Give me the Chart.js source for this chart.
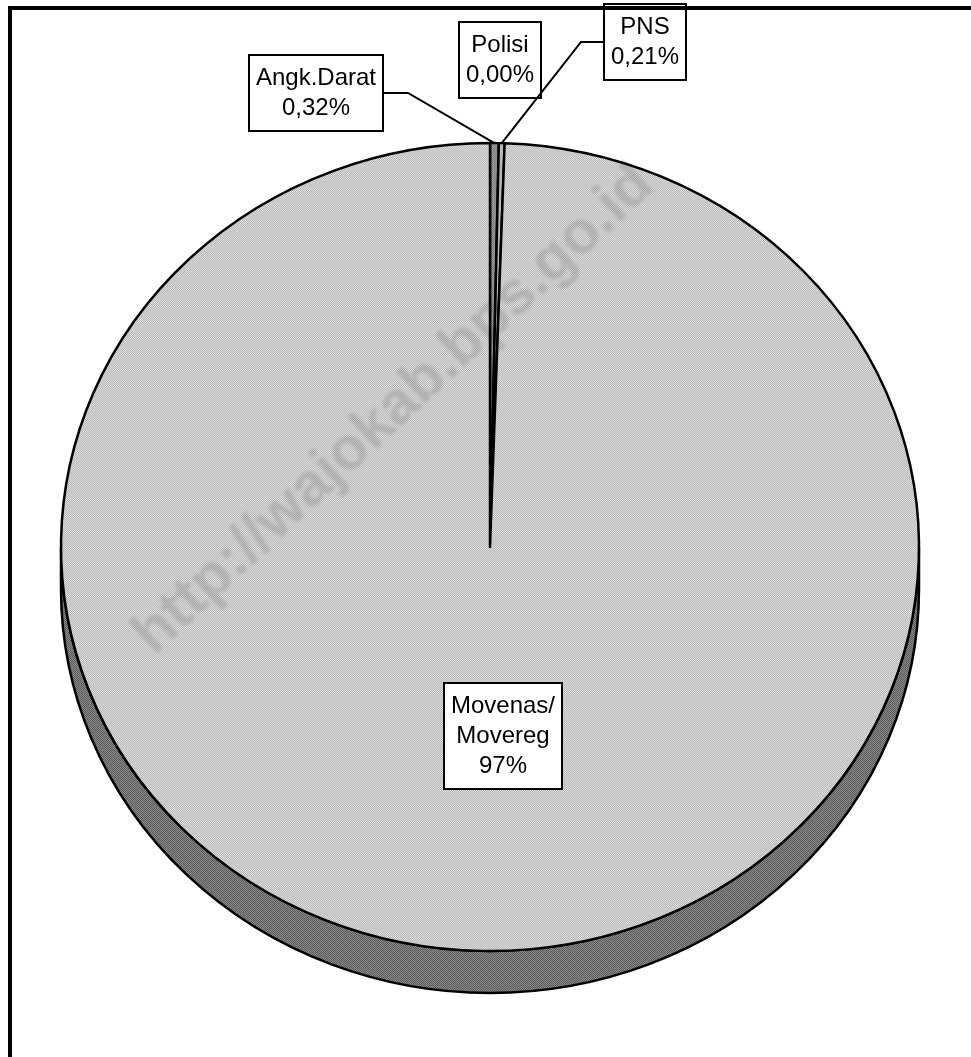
<!DOCTYPE html>
<html>
<head>
<meta charset="utf-8">
<script src="https://cdn.jsdelivr.net/npm/chart.js@4.4.1/dist/chart.umd.min.js"></script>
<style>
html, body { margin: 0; padding: 0; background: #fff; overflow: hidden; }
canvas { display: block; }
</style>
</head>
<body>
<canvas id="pieChart" width="971" height="1057"></canvas>
<script>
// slices, clockwise from the top
const categories = [['Angk.Darat'], ['Polisi'], ['PNS'], ['Movenas/', 'Movereg']];
const shares = [0.32, 0.00, 0.21, 97];

// layout of the tilted pie and the label boxes
const pieX = 490, pieY = 547, radiusX = 429, radiusY = 404, depth = 42;
const labelBoxes = [
    { x: 316, y: 93, leader: 'right' },
    { x: 500, y: 60, leader: null },
    { x: 645, y: 42, leader: 'left' },
    { x: 503, y: 736, leader: null }
];

// small dithered tiles, like the old office fills
function makePattern(light, dark)
{
    const tile = document.createElement('canvas');
    tile.width = 2;
    tile.height = 2;
    const t = tile.getContext('2d');
    t.fillStyle = light;
    t.fillRect(0, 0, 2, 2);
    t.fillStyle = dark;
    t.fillRect(0, 0, 1, 1);
    t.fillRect(1, 1, 1, 1);
    return t.createPattern(tile, 'repeat');
}

const topFills = [makePattern('#a8a8a8', '#707070'), '#ffffff', '#b8b8b8', makePattern('#eaeaea', '#aaaaaa')];
const sideFills = [makePattern('#606060', '#404040'), '#808080', '#7a7a7a', makePattern('#8a8a8a', '#5a5a5a')];

function formatShare(v)
{
    if (v >= 1) {
        return Math.round(v) + '%';
    }
    return v.toFixed(2).replace('.', ',') + '%';
}

// squashes the pie into an ellipse and draws the rim under it
const pie3d = {
    id: 'pie3d',
    beforeDatasetsDraw(chart) {
        const ctx = chart.ctx;
        const meta = chart.getDatasetMeta(0);
        const sy = radiusY / radiusX;
        meta.data.forEach((arc, i) => {
            const p = arc.getProps(['x', 'y', 'startAngle', 'endAngle', 'outerRadius'], true);
            for (const off of [0, 2 * Math.PI]) {
                const a0 = Math.max(p.startAngle, off);
                const a1 = Math.min(p.endAngle, off + Math.PI);
                if (a1 <= a0) continue;
                ctx.beginPath();
                ctx.ellipse(p.x, p.y, p.outerRadius, p.outerRadius * sy, 0, a0, a1);
                ctx.ellipse(p.x, p.y + depth, p.outerRadius, p.outerRadius * sy, 0, a1, a0, true);
                ctx.closePath();
                ctx.fillStyle = sideFills[i];
                ctx.fill();
                ctx.lineWidth = 2.5;
                ctx.strokeStyle = '#000';
                ctx.stroke();
            }
        });
        const c = meta.data[0];
        ctx.save();
        ctx.translate(c.x, c.y);
        ctx.scale(1, sy);
        ctx.translate(-c.x, -c.y);
    },
    afterDatasetsDraw(chart) {
        chart.ctx.restore();
    }
};

// watermark, label boxes with leader lines, frame
const decorations = {
    id: 'decorations',
    afterDraw(chart) {
        const ctx = chart.ctx;
        const meta = chart.getDatasetMeta(0);
        const sy = radiusY / radiusX;

        ctx.save();
        ctx.translate(394, 410);
        ctx.rotate(-43 * Math.PI / 180);
        ctx.filter = 'blur(1.5px)';
        ctx.font = 'bold 60px "Liberation Sans", Arial, sans-serif';
        ctx.fillStyle = 'rgba(0, 0, 0, 0.11)';
        ctx.textAlign = 'center';
        ctx.textBaseline = 'middle';
        ctx.fillText('http://wajokab.bps.go.id', 0, 0);
        ctx.restore();

        ctx.save();
        ctx.font = '24px "Liberation Sans", Arial, sans-serif';
        ctx.textAlign = 'center';
        ctx.textBaseline = 'middle';
        const lineH = 30, padX = 7, padY = 8;
        categories.forEach((cat, i) => {
            const lines = cat.concat([formatShare(shares[i])]);
            let w = 0;
            lines.forEach(l => { w = Math.max(w, ctx.measureText(l).width); });
            const bw = Math.round(w + 2 * padX);
            const bh = lines.length * lineH + 2 * padY;
            const box = labelBoxes[i];
            const left = Math.round(box.x - bw / 2);
            const top = Math.round(box.y - bh / 2);

            if (box.leader) {
                const arc = meta.data[i];
                const p = arc.getProps(['x', 'y', 'startAngle', 'endAngle', 'outerRadius'], true);
                const mid = (p.startAngle + p.endAngle) / 2;
                const ax = p.x + p.outerRadius * Math.cos(mid);
                const ay = p.y + p.outerRadius * sy * Math.sin(mid);
                const ex = box.leader === 'right' ? left + bw : left;
                const elbow = box.leader === 'right' ? ex + 25 : ex - 23;
                ctx.beginPath();
                ctx.moveTo(ex, box.y);
                ctx.lineTo(elbow, box.y);
                ctx.lineTo(ax, ay);
                ctx.lineWidth = 2;
                ctx.strokeStyle = '#000';
                ctx.stroke();
            }

            ctx.fillStyle = '#fff';
            ctx.fillRect(left, top, bw, bh);
            ctx.lineWidth = 2;
            ctx.strokeStyle = '#000';
            ctx.strokeRect(left, top, bw, bh);
            ctx.fillStyle = '#000';
            lines.forEach((l, k) => {
                ctx.fillText(l, left + bw / 2, top + padY + lineH / 2 + k * lineH);
            });
        });
        ctx.restore();

        ctx.fillStyle = '#000';
        ctx.fillRect(8, 6, 963, 4);
        ctx.fillRect(8, 6, 4, 1051);
    }
};

const ctx = document.getElementById('pieChart').getContext('2d');
const pieChart = new Chart(ctx, {
    type: 'pie',
    data: {
        labels: categories,
        datasets: [{
            data: shares,
            backgroundColor: topFills,
            borderColor: '#000',
            borderWidth: 2.5,
            borderJoinStyle: 'round'
        }]
    },
    options: {
        responsive: false,
        animation: false,
        events: [],
        radius: radiusX,
        layout: {
            padding: {
                left: pieX - radiusX,
                right: 971 - pieX - radiusX,
                top: pieY - radiusX,
                bottom: 1057 - pieY - radiusX
            }
        },
        plugins: {
            legend: { display: false },
            tooltip: { enabled: false }
        }
    },
    plugins: [pie3d, decorations]
});
</script>
</body>
</html>
